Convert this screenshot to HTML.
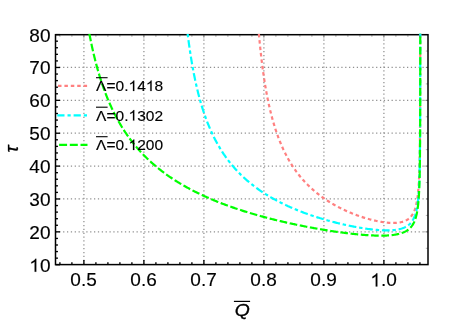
<!DOCTYPE html>
<html><head><meta charset="utf-8"><title>plot</title>
<style>html,body{margin:0;padding:0;background:#fff;}svg{display:block;will-change:transform;}</style></head>
<body>
<svg width="464" height="322" viewBox="0 0 464 322">
<rect width="464" height="322" fill="#fff"/>
<defs><clipPath id="c"><rect x="55.5" y="33.800000000000004" width="372.5" height="230.80000000000004"/></clipPath></defs>
<g stroke="#909090" stroke-width="1.25" stroke-dasharray="1.25 2.614" stroke-dashoffset="0.625" fill="none">
<line x1="83.90" y1="264.6" x2="83.90" y2="34.7" stroke-dashoffset="0.2"/>
<line x1="143.90" y1="264.6" x2="143.90" y2="34.7" stroke-dashoffset="0.2"/>
<line x1="203.90" y1="264.6" x2="203.90" y2="34.7" stroke-dashoffset="0.2"/>
<line x1="263.90" y1="264.6" x2="263.90" y2="34.7" stroke-dashoffset="0.2"/>
<line x1="323.90" y1="264.6" x2="323.90" y2="34.7" stroke-dashoffset="0.2"/>
<line x1="383.90" y1="264.6" x2="383.90" y2="34.7" stroke-dashoffset="0.2"/>
<line x1="56.0" y1="231.85" x2="428.0" y2="231.85"/>
<line x1="56.0" y1="198.97" x2="428.0" y2="198.97"/>
<line x1="56.0" y1="166.10" x2="428.0" y2="166.10"/>
<line x1="56.0" y1="133.22" x2="428.0" y2="133.22"/>
<line x1="56.0" y1="100.35" x2="428.0" y2="100.35"/>
<line x1="56.0" y1="67.47" x2="428.0" y2="67.47"/>
</g>
<rect x="55.5" y="34.7" width="372.5" height="229.90000000000003" fill="none" stroke="#000" stroke-width="1.5"/>
<g clip-path="url(#c)" fill="none" stroke-width="2.2">
<path d="M258.21,25.74 L258.32,27.05 L258.42,28.33 L258.53,29.59 L258.63,30.84 L258.74,32.07 L258.85,33.28 L258.95,34.48 L259.06,35.66 L259.16,36.82 L259.27,37.97 L259.38,39.10 L259.48,40.22 L259.59,41.33 L259.69,42.42 L259.80,43.49 L259.91,44.55 L260.01,45.60 L260.12,46.64 L260.22,47.66 L260.33,48.67 L260.43,49.67 L260.54,50.66 L260.64,51.63 L260.75,52.59 L260.85,53.55 L260.96,54.49 L261.06,55.42 L261.17,56.33 L261.27,57.24 L261.38,58.14 L261.48,59.03 L261.59,59.91 L261.69,60.77 L261.80,61.63 L261.90,62.48 L262.01,63.32 L262.11,64.15 L262.22,64.98 L262.32,65.79 L262.43,66.59 L262.53,67.39 L262.74,68.96 L262.95,70.50 L263.16,72.00 L263.37,73.48 L263.57,74.92 L263.78,76.34 L263.99,77.73 L264.20,79.10 L264.40,80.44 L264.61,81.75 L264.82,83.04 L265.03,84.31 L265.23,85.56 L265.44,86.78 L265.65,87.98 L265.85,89.16 L266.06,90.33 L266.26,91.47 L266.47,92.59 L266.67,93.69 L266.88,94.78 L267.08,95.85 L267.29,96.90 L267.49,97.94 L267.70,98.96 L267.90,99.96 L268.11,100.95 L268.31,101.92 L268.51,102.88 L268.72,103.82 L268.92,104.75 L269.12,105.67 L269.33,106.58 L269.53,107.47 L269.73,108.34 L269.94,109.21 L270.14,110.06 L270.34,110.91 L270.54,111.74 L270.74,112.56 L270.94,113.36 L271.15,114.16 L271.35,114.95 L271.55,115.73 L271.85,116.87 L272.15,118.00 L272.45,119.10 L272.75,120.18 L273.05,121.25 L273.35,122.29 L273.65,123.31 L273.95,124.32 L274.24,125.31 L274.54,126.28 L274.84,127.23 L275.14,128.17 L275.43,129.09 L275.73,130.00 L276.02,130.89 L276.32,131.77 L276.61,132.63 L276.91,133.48 L277.20,134.32 L277.50,135.14 L277.79,135.95 L278.08,136.75 L278.37,137.54 L278.67,138.31 L278.96,139.07 L279.25,139.82 L279.64,140.81 L280.02,141.77 L280.41,142.72 L280.79,143.65 L281.18,144.56 L281.56,145.45 L281.95,146.33 L282.33,147.20 L282.71,148.04 L283.09,148.88 L283.47,149.70 L283.85,150.50 L284.23,151.29 L284.61,152.07 L284.99,152.83 L285.36,153.59 L285.74,154.32 L286.11,155.05 L286.49,155.77 L286.96,156.65 L287.42,157.51 L287.89,158.36 L288.35,159.19 L288.82,160.00 L289.28,160.80 L289.74,161.58 L290.20,162.35 L290.66,163.11 L291.12,163.85 L291.57,164.58 L292.03,165.30 L292.48,166.00 L292.94,166.69 L293.39,167.37 L293.84,168.04 L294.38,168.83 L294.92,169.60 L295.46,170.36 L295.99,171.11 L296.52,171.84 L297.06,172.55 L297.59,173.25 L298.12,173.94 L298.65,174.62 L299.17,175.28 L299.70,175.94 L300.22,176.58 L300.74,177.21 L301.26,177.83 L301.87,178.54 L302.47,179.23 L303.07,179.92 L303.67,180.58 L304.27,181.24 L304.86,181.88 L305.46,182.52 L306.05,183.14 L306.63,183.74 L307.22,184.34 L307.81,184.93 L308.39,185.50 L308.97,186.07 L309.55,186.63 L310.21,187.25 L310.86,187.86 L311.52,188.46 L312.17,189.05 L312.82,189.63 L313.46,190.19 L314.11,190.75 L314.75,191.30 L315.38,191.83 L316.02,192.36 L316.65,192.87 L317.28,193.38 L317.91,193.88 L318.61,194.43 L319.31,194.97 L320.01,195.50 L320.70,196.02 L321.39,196.52 L322.08,197.02 L322.77,197.51 L323.45,197.99 L324.12,198.47 L324.80,198.93 L325.47,199.38 L326.14,199.83 L326.88,200.32 L327.61,200.79 L328.34,201.26 L329.07,201.72 L329.79,202.17 L330.51,202.61 L331.23,203.04 L331.94,203.47 L332.65,203.88 L333.35,204.29 L334.05,204.69 L334.75,205.09 L335.51,205.51 L336.27,205.93 L337.02,206.34 L337.77,206.73 L338.51,207.13 L339.25,207.51 L339.99,207.89 L340.72,208.25 L341.44,208.62 L342.17,208.97 L342.95,209.35 L343.73,209.72 L344.50,210.08 L345.26,210.44 L346.02,210.79 L346.78,211.13 L347.53,211.46 L348.28,211.79 L349.02,212.11 L349.82,212.44 L350.61,212.78 L351.39,213.10 L352.17,213.42 L352.94,213.73 L353.71,214.03 L354.47,214.32 L355.23,214.61 L355.98,214.89 L356.78,215.19 L357.57,215.48 L358.36,215.76 L359.14,216.04 L359.91,216.31 L360.68,216.57 L361.44,216.82 L362.25,217.09 L363.05,217.35 L363.85,217.60 L364.63,217.84 L365.41,218.08 L366.18,218.31 L367.00,218.55 L367.80,218.78 L368.60,219.01 L369.39,219.22 L370.18,219.44 L370.95,219.64 L371.76,219.85 L372.57,220.05 L373.37,220.24 L374.15,220.43 L374.98,220.62 L375.79,220.80 L376.59,220.97 L377.39,221.14 L378.17,221.29 L378.99,221.45 L379.80,221.60 L380.59,221.74 L381.42,221.88 L382.24,222.02 L383.04,222.14 L383.83,222.25 L384.65,222.36 L385.46,222.46 L386.26,222.56 L387.08,222.64 L387.88,222.72 L388.71,222.78 L389.53,222.84 L390.33,222.89 L391.15,222.92 L391.96,222.95 L392.78,222.96 L393.59,222.96 L394.41,222.95 L395.22,222.92 L396.03,222.88 L396.84,222.82 L397.65,222.74 L398.47,222.64 L399.27,222.53 L400.08,222.39 L400.86,222.23 L401.65,222.04 L402.45,221.83 L403.22,221.59 L403.99,221.32 L404.74,221.03 L405.48,220.69 L406.20,220.33 L406.90,219.94 L407.60,219.50 L408.27,219.03 L408.91,218.53 L409.52,218.00 L410.10,217.44 L410.66,216.85 L411.18,216.23 L411.68,215.60 L412.15,214.92 L412.59,214.24 L413.00,213.54 L413.38,212.83 L413.74,212.10 L414.07,211.38 L414.39,210.61 L414.69,209.84 L414.97,209.07 L415.23,208.30 L415.47,207.54 L415.70,206.74 L415.91,205.94 L416.11,205.16 L416.30,204.35 L416.48,203.54 L416.64,202.76 L416.80,201.94 L416.95,201.15 L417.09,200.32 L417.22,199.52 L417.35,198.70 L417.46,197.90 L417.58,197.08 L417.69,196.23 L417.79,195.42 L417.89,194.58 L417.98,193.78 L418.06,192.95 L418.15,192.11 L418.22,191.30 L418.30,190.48 L418.37,189.63 L418.44,188.83 L418.50,188.01 L418.56,187.17 L418.62,186.31 L418.68,185.51 L418.73,184.68 L418.79,183.84 L418.84,182.98 L418.88,182.18 L418.93,181.37 L418.97,180.53 L419.01,179.68 L419.05,178.81 L419.10,177.93 L419.13,177.11 L419.17,176.28 L419.20,175.43 L419.24,174.57 L419.27,173.68 L419.30,172.88 L419.33,172.07 L419.35,171.24 L419.38,170.40 L419.41,169.54 L419.43,168.66 L419.46,167.77 L419.48,166.86 L419.51,166.05 L419.53,165.22 L419.55,164.38 L419.57,163.53 L419.59,162.66 L419.61,161.78 L419.63,160.88 L419.65,159.96 L419.67,159.03 L419.68,158.22 L419.70,157.40 L419.71,156.56 L419.73,155.71 L419.74,154.84 L419.76,153.96 L419.77,153.07 L419.78,152.16 L419.80,151.24 L419.81,150.30 L419.82,149.35 L419.83,148.54 L419.84,147.72 L419.86,146.89 L419.87,146.05 L419.88,145.20 L419.89,144.33 L419.90,143.45 L419.91,142.56 L419.91,141.65 L419.92,140.73 L419.93,139.80 L419.94,138.85 L419.95,137.89 L419.96,136.91 L419.97,135.92 L419.98,135.12 L419.98,134.30 L419.99,133.48 L419.99,132.64 L420.00,131.79 L420.01,130.93 L420.01,130.06 L420.02,129.18 L420.03,128.29 L420.03,127.39 L420.04,126.47 L420.04,125.54 L420.05,124.60 L420.05,123.64 L420.06,122.68 L420.07,121.69 L420.07,120.70 L420.08,119.69 L420.08,118.67 L420.09,117.63 L420.09,116.57 L420.10,115.77 L420.10,114.96 L420.10,114.15 L420.11,113.32 L420.11,112.48 L420.11,111.64 L420.12,110.78 L420.12,109.91 L420.12,109.04 L420.13,108.15 L420.13,107.26 L420.13,106.35 L420.14,105.44 L420.14,104.51 L420.14,103.57 L420.15,102.62 L420.15,101.66 L420.15,100.69 L420.15,99.70 L420.16,98.70 L420.16,97.70 L420.16,96.67 L420.17,95.64 L420.17,94.59 L420.17,93.53 L420.17,92.46 L420.18,91.37 L420.18,90.26 L420.18,89.15 L420.18,88.01 L420.19,86.87 L420.19,85.71 L420.19,84.53 L420.19,83.33 L420.20,82.53 L420.20,81.72 L420.20,80.90 L420.20,80.07 L420.20,79.23 L420.20,78.39 L420.20,77.54 L420.21,76.68 L420.21,75.82 L420.21,74.94 L420.21,74.06 L420.21,73.16 L420.21,72.26 L420.21,71.35 L420.22,70.44 L420.22,69.51 L420.22,68.57 L420.22,67.63 L420.22,66.67 L420.22,65.71 L420.22,64.73 L420.22,63.75 L420.23,62.75 L420.23,61.75 L420.23,60.73 L420.23,59.71 L420.23,58.67 L420.23,57.62 L420.23,56.57 L420.23,55.50 L420.24,54.41 L420.24,53.32 L420.24,52.22 L420.24,51.10 L420.24,49.97 L420.24,48.83 L420.24,47.68 L420.24,46.51 L420.24,45.33 L420.24,44.14 L420.25,42.93 L420.25,41.71 L420.25,40.47 L420.25,39.22 L420.25,37.96 L420.25,36.68 L420.25,35.39 L420.25,34.08 L420.25,32.75 L420.25,31.41 L420.25,30.06 L420.26,28.68 L420.26,27.29 L420.26,25.88 L420.26,25.17" stroke="#ff8080" stroke-dasharray="3.55 2.89" stroke-dashoffset="4.84"/>
<path d="M186.72,25.77 L186.86,26.97 L187.00,28.16 L187.13,29.33 L187.27,30.48 L187.40,31.62 L187.54,32.75 L187.67,33.86 L187.81,34.96 L187.94,36.05 L188.08,37.12 L188.21,38.18 L188.35,39.23 L188.48,40.26 L188.62,41.28 L188.75,42.29 L188.89,43.29 L189.02,44.28 L189.16,45.25 L189.29,46.22 L189.43,47.17 L189.56,48.11 L189.70,49.05 L189.83,49.97 L189.97,50.88 L190.10,51.78 L190.24,52.67 L190.37,53.56 L190.50,54.43 L190.64,55.29 L190.77,56.15 L190.91,56.99 L191.04,57.83 L191.17,58.66 L191.31,59.48 L191.44,60.29 L191.58,61.10 L191.71,61.89 L191.98,63.46 L192.24,64.99 L192.51,66.50 L192.78,67.98 L193.05,69.43 L193.31,70.85 L193.58,72.25 L193.84,73.62 L194.11,74.97 L194.38,76.29 L194.64,77.59 L194.91,78.87 L195.17,80.13 L195.44,81.36 L195.70,82.58 L195.96,83.77 L196.23,84.95 L196.49,86.10 L196.76,87.24 L197.02,88.36 L197.28,89.46 L197.55,90.54 L197.81,91.61 L198.07,92.66 L198.33,93.70 L198.60,94.72 L198.86,95.72 L199.12,96.71 L199.38,97.69 L199.64,98.65 L199.90,99.60 L200.17,100.53 L200.43,101.46 L200.69,102.37 L200.95,103.26 L201.21,104.15 L201.47,105.02 L201.73,105.88 L201.99,106.73 L202.25,107.57 L202.51,108.40 L202.76,109.21 L203.02,110.02 L203.28,110.82 L203.54,111.60 L203.80,112.38 L204.06,113.15 L204.31,113.91 L204.70,115.02 L205.09,116.12 L205.47,117.20 L205.86,118.26 L206.24,119.31 L206.62,120.33 L207.01,121.34 L207.39,122.33 L207.77,123.30 L208.16,124.26 L208.54,125.20 L208.92,126.13 L209.30,127.04 L209.68,127.94 L210.06,128.82 L210.44,129.69 L210.82,130.55 L211.20,131.39 L211.57,132.23 L211.95,133.05 L212.33,133.85 L212.70,134.65 L213.08,135.43 L213.46,136.20 L213.83,136.97 L214.21,137.72 L214.58,138.46 L214.95,139.19 L215.33,139.91 L215.70,140.62 L216.20,141.55 L216.69,142.47 L217.19,143.37 L217.68,144.26 L218.18,145.13 L218.67,145.98 L219.16,146.82 L219.65,147.65 L220.14,148.46 L220.63,149.26 L221.12,150.05 L221.61,150.83 L222.09,151.59 L222.58,152.34 L223.07,153.08 L223.55,153.81 L224.03,154.53 L224.52,155.23 L225.00,155.93 L225.48,156.62 L225.96,157.29 L226.44,157.96 L226.92,158.62 L227.40,159.26 L228.00,160.06 L228.59,160.84 L229.19,161.61 L229.78,162.37 L230.37,163.11 L230.96,163.85 L231.55,164.57 L232.14,165.27 L232.72,165.97 L233.31,166.66 L233.89,167.33 L234.48,168.00 L235.06,168.65 L235.64,169.29 L236.22,169.93 L236.80,170.55 L237.38,171.17 L237.95,171.77 L238.53,172.37 L239.10,172.96 L239.67,173.54 L240.24,174.11 L240.81,174.68 L241.50,175.34 L242.18,176.00 L242.86,176.64 L243.53,177.28 L244.21,177.90 L244.88,178.52 L245.55,179.12 L246.22,179.72 L246.89,180.30 L247.56,180.88 L248.22,181.45 L248.89,182.01 L249.55,182.56 L250.21,183.10 L250.87,183.64 L251.52,184.16 L252.18,184.68 L252.83,185.19 L253.48,185.70 L254.13,186.20 L254.78,186.69 L255.43,187.17 L256.07,187.65 L256.82,188.20 L257.57,188.74 L258.32,189.27 L259.06,189.79 L259.80,190.30 L260.54,190.81 L261.27,191.31 L262.01,191.80 L262.74,192.29 L263.47,192.77 L264.20,193.24 L264.92,193.70 L265.65,194.16 L266.37,194.61 L267.08,195.05 L267.80,195.49 L268.51,195.92 L269.23,196.35 L269.94,196.77 L270.64,197.18 L271.35,197.59 L272.05,197.99 L272.75,198.39 L273.45,198.78 L274.24,199.22 L275.04,199.66 L275.83,200.09 L276.61,200.51 L277.40,200.92 L278.18,201.33 L278.96,201.74 L279.73,202.14 L280.50,202.53 L281.27,202.92 L282.04,203.30 L282.80,203.67 L283.57,204.05 L284.32,204.41 L285.08,204.77 L285.83,205.13 L286.58,205.48 L287.33,205.82 L288.07,206.17 L288.82,206.50 L289.55,206.84 L290.29,207.16 L291.02,207.49 L291.85,207.85 L292.66,208.20 L293.48,208.55 L294.29,208.89 L295.10,209.23 L295.90,209.57 L296.70,209.89 L297.50,210.22 L298.29,210.54 L299.08,210.85 L299.87,211.16 L300.66,211.47 L301.44,211.77 L302.21,212.07 L302.99,212.37 L303.76,212.66 L304.52,212.94 L305.29,213.22 L306.05,213.50 L306.80,213.78 L307.56,214.05 L308.39,214.34 L309.22,214.64 L310.04,214.92 L310.86,215.21 L311.68,215.49 L312.49,215.76 L313.30,216.03 L314.11,216.30 L314.91,216.56 L315.70,216.82 L316.49,217.08 L317.28,217.33 L318.07,217.58 L318.85,217.82 L319.62,218.07 L320.40,218.30 L321.17,218.54 L322.01,218.79 L322.84,219.04 L323.67,219.29 L324.50,219.53 L325.32,219.77 L326.14,220.00 L326.95,220.23 L327.76,220.46 L328.56,220.69 L329.36,220.91 L330.15,221.12 L330.94,221.34 L331.73,221.55 L332.51,221.75 L333.28,221.96 L334.12,222.17 L334.96,222.39 L335.79,222.60 L336.61,222.81 L337.43,223.01 L338.24,223.21 L339.05,223.41 L339.85,223.60 L340.65,223.79 L341.44,223.98 L342.23,224.16 L343.01,224.34 L343.85,224.53 L344.69,224.72 L345.52,224.90 L346.34,225.08 L347.16,225.26 L347.97,225.43 L348.77,225.60 L349.57,225.76 L350.36,225.93 L351.15,226.08 L351.99,226.25 L352.82,226.41 L353.65,226.57 L354.47,226.73 L355.28,226.88 L356.09,227.03 L356.89,227.18 L357.68,227.32 L358.53,227.47 L359.36,227.61 L360.19,227.75 L361.01,227.88 L361.82,228.02 L362.63,228.14 L363.42,228.27 L364.27,228.40 L365.10,228.52 L365.93,228.64 L366.74,228.75 L367.55,228.87 L368.35,228.97 L369.20,229.08 L370.03,229.19 L370.85,229.29 L371.67,229.38 L372.47,229.47 L373.27,229.56 L374.11,229.65 L374.93,229.73 L375.74,229.80 L376.55,229.88 L377.39,229.95 L378.22,230.01 L379.03,230.07 L379.84,230.12 L380.68,230.18 L381.50,230.22 L382.32,230.26 L383.12,230.29 L383.95,230.32 L384.77,230.34 L385.58,230.36 L386.41,230.37 L387.22,230.37 L388.03,230.36 L388.86,230.35 L389.67,230.32 L390.50,230.29 L391.32,230.25 L392.12,230.20 L392.94,230.14 L393.75,230.07 L394.57,229.98 L395.37,229.89 L396.18,229.77 L396.98,229.65 L397.79,229.51 L398.58,229.35 L399.38,229.18 L400.15,228.99 L400.94,228.78 L401.73,228.54 L402.49,228.29 L403.26,228.00 L404.01,227.70 L404.76,227.36 L405.48,227.01 L406.20,226.61 L406.90,226.19 L407.58,225.75 L408.23,225.27 L408.86,224.77 L409.46,224.24 L410.05,223.67 L410.61,223.07 L411.14,222.46 L411.65,221.81 L412.12,221.15 L412.56,220.48 L412.99,219.77 L413.38,219.05 L413.75,218.32 L414.10,217.59 L414.42,216.84 L414.72,216.10 L415.00,215.33 L415.27,214.55 L415.52,213.77 L415.75,213.00 L415.97,212.20 L416.18,211.41 L416.37,210.62 L416.55,209.81 L416.72,209.00 L416.88,208.22 L417.03,207.41 L417.17,206.61 L417.30,205.79 L417.43,204.99 L417.55,204.17 L417.66,203.38 L417.77,202.56 L417.87,201.72 L417.97,200.91 L418.06,200.07 L418.15,199.27 L418.23,198.45 L418.31,197.61 L418.38,196.81 L418.45,195.99 L418.52,195.15 L418.59,194.28 L418.65,193.46 L418.71,192.63 L418.77,191.77 L418.82,190.97 L418.87,190.15 L418.92,189.31 L418.97,188.45 L419.01,187.57 L419.05,186.75 L419.10,185.92 L419.14,185.06 L419.17,184.19 L419.21,183.39 L419.24,182.57 L419.28,181.74 L419.31,180.89 L419.34,180.03 L419.37,179.14 L419.40,178.34 L419.42,177.52 L419.45,176.69 L419.48,175.84 L419.50,174.98 L419.52,174.10 L419.55,173.20 L419.57,172.40 L419.59,171.58 L419.61,170.76 L419.63,169.91 L419.65,169.05 L419.67,168.18 L419.68,167.29 L419.70,166.39 L419.72,165.46 L419.73,164.66 L419.75,163.84 L419.76,163.01 L419.78,162.17 L419.79,161.31 L419.80,160.44 L419.82,159.56 L419.83,158.65 L419.84,157.74 L419.86,156.81 L419.87,155.86 L419.88,155.06 L419.89,154.24 L419.90,153.42 L419.91,152.58 L419.92,151.73 L419.93,150.86 L419.93,149.99 L419.94,149.10 L419.95,148.19 L419.96,147.28 L419.97,146.34 L419.98,145.40 L419.99,144.43 L419.99,143.46 L420.00,142.46 L420.01,141.66 L420.02,140.84 L420.02,140.01 L420.03,139.18 L420.03,138.33 L420.04,137.47 L420.04,136.59 L420.05,135.71 L420.06,134.81 L420.06,133.90 L420.07,132.98 L420.07,132.05 L420.08,131.10 L420.08,130.14 L420.09,129.16 L420.09,128.17 L420.10,127.17 L420.10,126.15 L420.11,125.11 L420.11,124.07 L420.12,123.00 L420.12,122.19 L420.12,121.37 L420.13,120.54 L420.13,119.71 L420.13,118.86 L420.14,118.00 L420.14,117.13 L420.14,116.25 L420.15,115.37 L420.15,114.47 L420.15,113.56 L420.15,112.64 L420.16,111.70 L420.16,110.76 L420.16,109.80 L420.17,108.84 L420.17,107.85 L420.17,106.86 L420.17,105.86 L420.18,104.84 L420.18,103.81 L420.18,102.76 L420.18,101.70 L420.19,100.63 L420.19,99.54 L420.19,98.44 L420.19,97.33 L420.20,96.19 L420.20,95.05 L420.20,93.88 L420.20,92.70 L420.21,91.51 L420.21,90.70 L420.21,89.89 L420.21,89.06 L420.21,88.23 L420.21,87.39 L420.21,86.55 L420.21,85.69 L420.22,84.83 L420.22,83.96 L420.22,83.08 L420.22,82.19 L420.22,81.29 L420.22,80.39 L420.22,79.47 L420.23,78.54 L420.23,77.61 L420.23,76.67 L420.23,75.71 L420.23,74.75 L420.23,73.77 L420.23,72.79 L420.23,71.79 L420.23,70.79 L420.24,69.77 L420.24,68.74 L420.24,67.70 L420.24,66.65 L420.24,65.59 L420.24,64.52 L420.24,63.44 L420.24,62.34 L420.24,61.23 L420.25,60.11 L420.25,58.97 L420.25,57.82 L420.25,56.66 L420.25,55.49 L420.25,54.30 L420.25,53.10 L420.25,51.88 L420.25,50.65 L420.25,49.40 L420.25,48.14 L420.26,46.86 L420.26,45.57 L420.26,44.26 L420.26,42.94 L420.26,41.60 L420.26,40.24 L420.26,38.86 L420.26,37.47 L420.26,36.06 L420.26,34.63 L420.26,33.18 L420.26,31.72 L420.26,30.23 L420.27,28.72 L420.27,27.20 L420.27,25.65 L420.27,24.87" stroke="#00ffff" stroke-dasharray="7.7 2.83 3.43 2.8" stroke-dashoffset="2.40"/>
<path d="M87.79,24.92 L87.97,25.92 L88.14,26.90 L88.31,27.87 L88.48,28.83 L88.65,29.78 L88.82,30.72 L89.00,31.65 L89.17,32.57 L89.34,33.49 L89.51,34.39 L89.68,35.28 L89.85,36.17 L90.02,37.05 L90.19,37.92 L90.36,38.78 L90.53,39.63 L90.71,40.48 L90.88,41.31 L91.05,42.14 L91.22,42.96 L91.39,43.78 L91.56,44.58 L91.73,45.38 L91.90,46.17 L92.07,46.96 L92.41,48.50 L92.75,50.02 L93.09,51.52 L93.43,52.98 L93.77,54.43 L94.11,55.85 L94.45,57.24 L94.79,58.61 L95.12,59.96 L95.46,61.29 L95.80,62.60 L96.14,63.88 L96.48,65.15 L96.81,66.40 L97.15,67.62 L97.49,68.83 L97.82,70.02 L98.16,71.20 L98.50,72.35 L98.83,73.49 L99.17,74.61 L99.50,75.72 L99.84,76.81 L100.17,77.89 L100.51,78.95 L100.84,80.00 L101.18,81.03 L101.51,82.05 L101.85,83.05 L102.18,84.04 L102.51,85.02 L102.85,85.99 L103.18,86.94 L103.51,87.88 L103.84,88.81 L104.18,89.73 L104.51,90.63 L104.84,91.53 L105.17,92.41 L105.50,93.28 L105.83,94.14 L106.17,95.00 L106.50,95.84 L106.83,96.67 L107.16,97.49 L107.49,98.31 L107.82,99.11 L108.15,99.90 L108.47,100.69 L108.80,101.46 L109.13,102.23 L109.46,102.99 L109.79,103.74 L110.12,104.48 L110.45,105.22 L110.94,106.31 L111.43,107.38 L111.92,108.43 L112.41,109.46 L112.90,110.48 L113.39,111.49 L113.87,112.48 L114.36,113.45 L114.85,114.41 L115.34,115.36 L115.82,116.29 L116.31,117.21 L116.79,118.12 L117.28,119.01 L117.76,119.89 L118.24,120.76 L118.73,121.62 L119.21,122.46 L119.69,123.29 L120.17,124.12 L120.65,124.93 L121.13,125.73 L121.61,126.52 L122.09,127.30 L122.57,128.07 L123.05,128.83 L123.53,129.58 L124.01,130.32 L124.48,131.05 L124.96,131.77 L125.44,132.49 L125.91,133.19 L126.39,133.89 L126.86,134.58 L127.33,135.26 L127.81,135.93 L128.28,136.60 L128.75,137.25 L129.22,137.90 L129.85,138.76 L130.48,139.60 L131.11,140.43 L131.73,141.24 L132.36,142.05 L132.98,142.84 L133.60,143.63 L134.22,144.40 L134.85,145.16 L135.47,145.91 L136.08,146.65 L136.70,147.37 L137.32,148.09 L137.94,148.80 L138.55,149.50 L139.17,150.19 L139.78,150.88 L140.39,151.55 L141.01,152.21 L141.62,152.87 L142.23,153.52 L142.84,154.16 L143.44,154.79 L144.05,155.41 L144.66,156.03 L145.27,156.64 L145.87,157.24 L146.47,157.83 L147.08,158.42 L147.68,159.00 L148.28,159.57 L148.88,160.14 L149.48,160.70 L150.08,161.25 L150.68,161.80 L151.27,162.34 L151.87,162.88 L152.61,163.54 L153.36,164.19 L154.10,164.83 L154.84,165.46 L155.58,166.09 L156.31,166.71 L157.05,167.31 L157.78,167.91 L158.52,168.51 L159.25,169.09 L159.98,169.67 L160.71,170.24 L161.43,170.80 L162.16,171.36 L162.88,171.91 L163.61,172.45 L164.33,172.99 L165.05,173.52 L165.77,174.04 L166.49,174.56 L167.20,175.07 L167.92,175.57 L168.63,176.07 L169.35,176.57 L170.06,177.05 L170.77,177.53 L171.47,178.01 L172.18,178.48 L172.89,178.95 L173.59,179.41 L174.30,179.86 L175.00,180.31 L175.70,180.76 L176.40,181.20 L177.09,181.64 L177.79,182.07 L178.49,182.49 L179.18,182.92 L179.87,183.33 L180.56,183.75 L181.25,184.16 L182.08,184.64 L182.90,185.12 L183.73,185.59 L184.55,186.06 L185.36,186.52 L186.18,186.98 L187.00,187.43 L187.81,187.88 L188.62,188.32 L189.43,188.75 L190.24,189.19 L191.04,189.61 L191.84,190.03 L192.65,190.45 L193.44,190.86 L194.24,191.27 L195.04,191.67 L195.83,192.07 L196.62,192.46 L197.41,192.85 L198.20,193.23 L198.99,193.61 L199.77,193.99 L200.56,194.36 L201.34,194.73 L202.12,195.10 L202.89,195.46 L203.67,195.81 L204.44,196.17 L205.21,196.52 L205.98,196.86 L206.75,197.21 L207.52,197.55 L208.28,197.88 L209.05,198.22 L209.81,198.54 L210.56,198.87 L211.32,199.19 L212.08,199.51 L212.83,199.83 L213.58,200.14 L214.33,200.45 L215.08,200.76 L215.83,201.06 L216.57,201.37 L217.31,201.66 L218.18,202.01 L219.04,202.35 L219.90,202.69 L220.75,203.02 L221.61,203.35 L222.46,203.68 L223.31,204.00 L224.15,204.32 L225.00,204.64 L225.84,204.95 L226.68,205.26 L227.52,205.57 L228.35,205.87 L229.19,206.17 L230.01,206.47 L230.84,206.76 L231.67,207.05 L232.49,207.34 L233.31,207.62 L234.13,207.91 L234.94,208.19 L235.76,208.46 L236.57,208.74 L237.38,209.01 L238.18,209.28 L238.99,209.54 L239.79,209.81 L240.59,210.07 L241.38,210.33 L242.18,210.58 L242.97,210.84 L243.76,211.09 L244.54,211.33 L245.33,211.58 L246.11,211.82 L246.89,212.07 L247.67,212.31 L248.45,212.54 L249.22,212.78 L249.99,213.01 L250.76,213.24 L251.63,213.50 L252.51,213.76 L253.37,214.02 L254.24,214.27 L255.10,214.52 L255.96,214.77 L256.82,215.01 L257.68,215.25 L258.53,215.49 L259.38,215.73 L260.22,215.97 L261.06,216.20 L261.90,216.43 L262.74,216.66 L263.57,216.88 L264.40,217.11 L265.23,217.33 L266.06,217.55 L266.88,217.76 L267.70,217.98 L268.51,218.19 L269.33,218.40 L270.14,218.61 L270.94,218.82 L271.75,219.02 L272.55,219.22 L273.35,219.42 L274.15,219.62 L274.94,219.82 L275.73,220.01 L276.52,220.20 L277.30,220.40 L278.08,220.58 L278.86,220.77 L279.73,220.98 L280.60,221.19 L281.47,221.39 L282.33,221.59 L283.19,221.79 L284.04,221.99 L284.89,222.18 L285.74,222.38 L286.58,222.57 L287.42,222.76 L288.26,222.94 L289.09,223.13 L289.92,223.31 L290.75,223.49 L291.57,223.67 L292.39,223.85 L293.21,224.03 L294.02,224.20 L294.83,224.37 L295.63,224.54 L296.44,224.71 L297.23,224.88 L298.03,225.04 L298.82,225.20 L299.61,225.36 L300.39,225.52 L301.26,225.70 L302.13,225.87 L302.99,226.04 L303.84,226.21 L304.69,226.38 L305.54,226.54 L306.38,226.71 L307.22,226.87 L308.06,227.03 L308.89,227.18 L309.71,227.34 L310.54,227.49 L311.35,227.64 L312.17,227.79 L312.98,227.94 L313.78,228.09 L314.59,228.23 L315.38,228.38 L316.18,228.52 L316.97,228.66 L317.83,228.81 L318.69,228.96 L319.55,229.10 L320.40,229.25 L321.24,229.39 L322.08,229.53 L322.92,229.67 L323.75,229.81 L324.57,229.95 L325.40,230.08 L326.21,230.21 L327.02,230.34 L327.83,230.47 L328.63,230.60 L329.43,230.72 L330.23,230.84 L331.09,230.97 L331.94,231.10 L332.79,231.23 L333.63,231.36 L334.47,231.48 L335.30,231.60 L336.13,231.72 L336.95,231.84 L337.77,231.95 L338.58,232.07 L339.39,232.18 L340.19,232.29 L340.98,232.40 L341.84,232.51 L342.69,232.62 L343.53,232.73 L344.37,232.84 L345.20,232.95 L346.02,233.05 L346.84,233.15 L347.66,233.25 L348.46,233.35 L349.26,233.44 L350.06,233.53 L350.91,233.63 L351.75,233.73 L352.59,233.82 L353.42,233.91 L354.24,234.00 L355.05,234.08 L355.86,234.17 L356.66,234.25 L357.51,234.33 L358.36,234.41 L359.20,234.49 L360.02,234.57 L360.85,234.64 L361.66,234.71 L362.47,234.78 L363.27,234.84 L364.11,234.91 L364.94,234.98 L365.77,235.04 L366.59,235.10 L367.40,235.15 L368.21,235.20 L369.05,235.26 L369.88,235.30 L370.71,235.35 L371.53,235.39 L372.33,235.43 L373.18,235.47 L374.01,235.50 L374.84,235.53 L375.65,235.56 L376.46,235.58 L377.30,235.60 L378.13,235.62 L378.95,235.63 L379.76,235.64 L380.59,235.64 L381.42,235.64 L382.24,235.64 L383.04,235.63 L383.87,235.61 L384.69,235.59 L385.50,235.56 L386.33,235.53 L387.15,235.49 L387.96,235.44 L388.78,235.39 L389.60,235.33 L390.40,235.26 L391.22,235.18 L392.02,235.10 L392.84,235.00 L393.65,234.90 L394.47,234.78 L395.28,234.65 L396.09,234.51 L396.89,234.35 L397.70,234.18 L398.50,234.00 L399.30,233.80 L400.08,233.58 L400.86,233.35 L401.63,233.10 L402.40,232.82 L403.15,232.53 L403.90,232.21 L404.62,231.88 L405.35,231.51 L406.06,231.12 L406.76,230.69 L407.44,230.24 L408.10,229.77 L408.73,229.27 L409.34,228.74 L409.93,228.18 L410.50,227.60 L411.03,226.99 L411.54,226.36 L412.02,225.72 L412.48,225.05 L412.91,224.36 L413.31,223.66 L413.69,222.94 L414.05,222.20 L414.38,221.46 L414.69,220.71 L414.98,219.97 L415.26,219.19 L415.52,218.41 L415.76,217.63 L415.98,216.86 L416.19,216.05 L416.39,215.26 L416.58,214.47 L416.75,213.66 L416.92,212.86 L417.07,212.07 L417.21,211.26 L417.35,210.47 L417.48,209.65 L417.60,208.86 L417.71,208.04 L417.82,207.24 L417.92,206.42 L418.02,205.58 L418.12,204.77 L418.21,203.94 L418.29,203.14 L418.36,202.32 L418.44,201.48 L418.51,200.68 L418.58,199.86 L418.64,199.02 L418.71,198.16 L418.77,197.34 L418.82,196.50 L418.88,195.65 L418.93,194.84 L418.97,194.02 L419.02,193.18 L419.07,192.32 L419.11,191.52 L419.15,190.70 L419.19,189.87 L419.22,189.01 L419.26,188.14 L419.29,187.34 L419.33,186.52 L419.36,185.69 L419.39,184.84 L419.42,183.97 L419.45,183.08 L419.47,182.27 L419.50,181.45 L419.52,180.62 L419.55,179.77 L419.57,178.90 L419.59,178.01 L419.61,177.11 L419.63,176.30 L419.65,175.48 L419.67,174.65 L419.69,173.80 L419.71,172.93 L419.72,172.05 L419.74,171.15 L419.76,170.24 L419.77,169.31 L419.79,168.50 L419.80,167.67 L419.81,166.83 L419.83,165.98 L419.84,165.11 L419.85,164.23 L419.87,163.33 L419.88,162.41 L419.89,161.48 L419.90,160.54 L419.91,159.74 L419.92,158.92 L419.93,158.10 L419.94,157.26 L419.95,156.41 L419.96,155.55 L419.96,154.67 L419.97,153.78 L419.98,152.87 L419.99,151.96 L420.00,151.02 L420.01,150.07 L420.01,149.11 L420.02,148.13 L420.03,147.13 L420.03,146.32 L420.04,145.50 L420.05,144.67 L420.05,143.83 L420.06,142.97 L420.06,142.11 L420.07,141.23 L420.07,140.34 L420.08,139.43 L420.08,138.52 L420.09,137.59 L420.09,136.64 L420.10,135.69 L420.10,134.72 L420.11,133.73 L420.11,132.73 L420.12,131.72 L420.12,130.69 L420.13,129.64 L420.13,128.58 L420.13,127.77 L420.14,126.95 L420.14,126.13 L420.14,125.29 L420.15,124.44 L420.15,123.58 L420.15,122.72 L420.16,121.84 L420.16,120.95 L420.16,120.05 L420.16,119.14 L420.17,118.22 L420.17,117.28 L420.17,116.34 L420.17,115.38 L420.18,114.41 L420.18,113.42 L420.18,112.43 L420.19,111.42 L420.19,110.40 L420.19,109.36 L420.19,108.31 L420.19,107.24 L420.20,106.17 L420.20,105.07 L420.20,103.96 L420.20,102.84 L420.21,101.70 L420.21,100.54 L420.21,99.37 L420.21,98.18 L420.21,97.37 L420.21,96.56 L420.22,95.74 L420.22,94.92 L420.22,94.08 L420.22,93.24 L420.22,92.38 L420.22,91.52 L420.22,90.65 L420.23,89.78 L420.23,88.89 L420.23,87.99 L420.23,87.09 L420.23,86.17 L420.23,85.25 L420.23,84.31 L420.23,83.37 L420.23,82.41 L420.24,81.45 L420.24,80.48 L420.24,79.49 L420.24,78.49 L420.24,77.49 L420.24,76.47 L420.24,75.44 L420.24,74.40 L420.24,73.34 L420.25,72.28 L420.25,71.20 L420.25,70.11 L420.25,69.01 L420.25,67.90 L420.25,66.77 L420.25,65.63 L420.25,64.47 L420.25,63.30 L420.25,62.12 L420.25,60.92 L420.26,59.71 L420.26,58.49 L420.26,57.24 L420.26,55.99 L420.26,54.72 L420.26,53.43 L420.26,52.12 L420.26,50.80 L420.26,49.46 L420.26,48.10 L420.26,46.73 L420.26,45.34 L420.26,43.93 L420.27,42.50 L420.27,41.05 L420.27,39.58 L420.27,38.09 L420.27,36.58 L420.27,35.05 L420.27,33.50 L420.27,31.93 L420.27,30.33 L420.27,29.53 L420.27,28.72 L420.27,27.90 L420.27,27.07 L420.27,26.24 L420.27,25.41 L420.27,25.41" stroke="#00ff00" stroke-dasharray="7.66 2.63" stroke-dashoffset="1.40"/>
<line x1="57" y1="85.8" x2="87.5" y2="85.8" stroke="#ff8080" stroke-dasharray="3.5 2.9" stroke-dashoffset="5.4"/>
<line x1="57" y1="115.3" x2="87.5" y2="115.3" stroke="#00ffff" stroke-dasharray="7.2 3 3.2 2.9" stroke-dashoffset="16"/>
<line x1="57" y1="144.8" x2="87.5" y2="144.8" stroke="#00ff00" stroke-dasharray="8 2.7" stroke-dashoffset="8.6"/>
</g>
<g stroke="#000" stroke-width="0.45" opacity="0.7">
<line x1="59.90" y1="34.7" x2="59.90" y2="36.900000000000006"/>
<line x1="71.90" y1="34.7" x2="71.90" y2="36.900000000000006"/>
<line x1="83.90" y1="34.7" x2="83.90" y2="38.7"/>
<line x1="95.90" y1="34.7" x2="95.90" y2="36.900000000000006"/>
<line x1="107.90" y1="34.7" x2="107.90" y2="36.900000000000006"/>
<line x1="119.90" y1="34.7" x2="119.90" y2="36.900000000000006"/>
<line x1="131.90" y1="34.7" x2="131.90" y2="36.900000000000006"/>
<line x1="143.90" y1="34.7" x2="143.90" y2="38.7"/>
<line x1="155.90" y1="34.7" x2="155.90" y2="36.900000000000006"/>
<line x1="167.90" y1="34.7" x2="167.90" y2="36.900000000000006"/>
<line x1="179.90" y1="34.7" x2="179.90" y2="36.900000000000006"/>
<line x1="191.90" y1="34.7" x2="191.90" y2="36.900000000000006"/>
<line x1="203.90" y1="34.7" x2="203.90" y2="38.7"/>
<line x1="215.90" y1="34.7" x2="215.90" y2="36.900000000000006"/>
<line x1="227.90" y1="34.7" x2="227.90" y2="36.900000000000006"/>
<line x1="239.90" y1="34.7" x2="239.90" y2="36.900000000000006"/>
<line x1="251.90" y1="34.7" x2="251.90" y2="36.900000000000006"/>
<line x1="263.90" y1="34.7" x2="263.90" y2="38.7"/>
<line x1="275.90" y1="34.7" x2="275.90" y2="36.900000000000006"/>
<line x1="287.90" y1="34.7" x2="287.90" y2="36.900000000000006"/>
<line x1="299.90" y1="34.7" x2="299.90" y2="36.900000000000006"/>
<line x1="311.90" y1="34.7" x2="311.90" y2="36.900000000000006"/>
<line x1="323.90" y1="34.7" x2="323.90" y2="38.7"/>
<line x1="335.90" y1="34.7" x2="335.90" y2="36.900000000000006"/>
<line x1="347.90" y1="34.7" x2="347.90" y2="36.900000000000006"/>
<line x1="359.90" y1="34.7" x2="359.90" y2="36.900000000000006"/>
<line x1="371.90" y1="34.7" x2="371.90" y2="36.900000000000006"/>
<line x1="383.90" y1="34.7" x2="383.90" y2="38.7"/>
<line x1="395.90" y1="34.7" x2="395.90" y2="36.900000000000006"/>
<line x1="407.90" y1="34.7" x2="407.90" y2="36.900000000000006"/>
<line x1="419.90" y1="34.7" x2="419.90" y2="36.900000000000006"/>
<line x1="428.0" y1="264.73" x2="425.8" y2="264.73"/>
<line x1="428.0" y1="248.29" x2="425.8" y2="248.29"/>
<line x1="428.0" y1="231.85" x2="424.0" y2="231.85"/>
<line x1="428.0" y1="215.41" x2="425.8" y2="215.41"/>
<line x1="428.0" y1="198.97" x2="425.8" y2="198.97"/>
<line x1="428.0" y1="182.54" x2="425.8" y2="182.54"/>
<line x1="428.0" y1="166.10" x2="424.0" y2="166.10"/>
<line x1="428.0" y1="149.66" x2="425.8" y2="149.66"/>
<line x1="428.0" y1="133.22" x2="425.8" y2="133.22"/>
<line x1="428.0" y1="116.79" x2="425.8" y2="116.79"/>
<line x1="428.0" y1="100.35" x2="424.0" y2="100.35"/>
<line x1="428.0" y1="83.91" x2="425.8" y2="83.91"/>
<line x1="428.0" y1="67.47" x2="425.8" y2="67.47"/>
<line x1="428.0" y1="51.04" x2="425.8" y2="51.04"/>
<line x1="428.0" y1="34.60" x2="424.0" y2="34.60"/>
</g>
<g stroke="#000" stroke-width="1.35">
<line x1="59.90" y1="264.6" x2="59.90" y2="262.15000000000003"/>
<line x1="71.90" y1="264.6" x2="71.90" y2="262.15000000000003"/>
<line x1="83.90" y1="264.6" x2="83.90" y2="260.05"/>
<line x1="95.90" y1="264.6" x2="95.90" y2="262.15000000000003"/>
<line x1="107.90" y1="264.6" x2="107.90" y2="262.15000000000003"/>
<line x1="119.90" y1="264.6" x2="119.90" y2="262.15000000000003"/>
<line x1="131.90" y1="264.6" x2="131.90" y2="262.15000000000003"/>
<line x1="143.90" y1="264.6" x2="143.90" y2="260.05"/>
<line x1="155.90" y1="264.6" x2="155.90" y2="262.15000000000003"/>
<line x1="167.90" y1="264.6" x2="167.90" y2="262.15000000000003"/>
<line x1="179.90" y1="264.6" x2="179.90" y2="262.15000000000003"/>
<line x1="191.90" y1="264.6" x2="191.90" y2="262.15000000000003"/>
<line x1="203.90" y1="264.6" x2="203.90" y2="260.05"/>
<line x1="215.90" y1="264.6" x2="215.90" y2="262.15000000000003"/>
<line x1="227.90" y1="264.6" x2="227.90" y2="262.15000000000003"/>
<line x1="239.90" y1="264.6" x2="239.90" y2="262.15000000000003"/>
<line x1="251.90" y1="264.6" x2="251.90" y2="262.15000000000003"/>
<line x1="263.90" y1="264.6" x2="263.90" y2="260.05"/>
<line x1="275.90" y1="264.6" x2="275.90" y2="262.15000000000003"/>
<line x1="287.90" y1="264.6" x2="287.90" y2="262.15000000000003"/>
<line x1="299.90" y1="264.6" x2="299.90" y2="262.15000000000003"/>
<line x1="311.90" y1="264.6" x2="311.90" y2="262.15000000000003"/>
<line x1="323.90" y1="264.6" x2="323.90" y2="260.05"/>
<line x1="335.90" y1="264.6" x2="335.90" y2="262.15000000000003"/>
<line x1="347.90" y1="264.6" x2="347.90" y2="262.15000000000003"/>
<line x1="359.90" y1="264.6" x2="359.90" y2="262.15000000000003"/>
<line x1="371.90" y1="264.6" x2="371.90" y2="262.15000000000003"/>
<line x1="383.90" y1="264.6" x2="383.90" y2="260.05"/>
<line x1="395.90" y1="264.6" x2="395.90" y2="262.15000000000003"/>
<line x1="407.90" y1="264.6" x2="407.90" y2="262.15000000000003"/>
<line x1="419.90" y1="264.6" x2="419.90" y2="262.15000000000003"/>
<line x1="55.5" y1="264.73" x2="60.050000000000004" y2="264.73"/>
<line x1="55.5" y1="258.15" x2="57.95" y2="258.15"/>
<line x1="55.5" y1="251.57" x2="57.95" y2="251.57"/>
<line x1="55.5" y1="245.00" x2="57.95" y2="245.00"/>
<line x1="55.5" y1="238.43" x2="57.95" y2="238.43"/>
<line x1="55.5" y1="231.85" x2="60.050000000000004" y2="231.85"/>
<line x1="55.5" y1="225.28" x2="57.95" y2="225.28"/>
<line x1="55.5" y1="218.70" x2="57.95" y2="218.70"/>
<line x1="55.5" y1="212.12" x2="57.95" y2="212.12"/>
<line x1="55.5" y1="205.55" x2="57.95" y2="205.55"/>
<line x1="55.5" y1="198.97" x2="60.050000000000004" y2="198.97"/>
<line x1="55.5" y1="192.40" x2="57.95" y2="192.40"/>
<line x1="55.5" y1="185.82" x2="57.95" y2="185.82"/>
<line x1="55.5" y1="179.25" x2="57.95" y2="179.25"/>
<line x1="55.5" y1="172.68" x2="57.95" y2="172.68"/>
<line x1="55.5" y1="166.10" x2="60.050000000000004" y2="166.10"/>
<line x1="55.5" y1="159.53" x2="57.95" y2="159.53"/>
<line x1="55.5" y1="152.95" x2="57.95" y2="152.95"/>
<line x1="55.5" y1="146.38" x2="57.95" y2="146.38"/>
<line x1="55.5" y1="139.80" x2="57.95" y2="139.80"/>
<line x1="55.5" y1="133.22" x2="60.050000000000004" y2="133.22"/>
<line x1="55.5" y1="126.65" x2="57.95" y2="126.65"/>
<line x1="55.5" y1="120.08" x2="57.95" y2="120.08"/>
<line x1="55.5" y1="113.50" x2="57.95" y2="113.50"/>
<line x1="55.5" y1="106.93" x2="57.95" y2="106.93"/>
<line x1="55.5" y1="100.35" x2="60.050000000000004" y2="100.35"/>
<line x1="55.5" y1="93.78" x2="57.95" y2="93.78"/>
<line x1="55.5" y1="87.20" x2="57.95" y2="87.20"/>
<line x1="55.5" y1="80.62" x2="57.95" y2="80.62"/>
<line x1="55.5" y1="74.05" x2="57.95" y2="74.05"/>
<line x1="55.5" y1="67.47" x2="60.050000000000004" y2="67.47"/>
<line x1="55.5" y1="60.90" x2="57.95" y2="60.90"/>
<line x1="55.5" y1="54.33" x2="57.95" y2="54.33"/>
<line x1="55.5" y1="47.75" x2="57.95" y2="47.75"/>
<line x1="55.5" y1="41.18" x2="57.95" y2="41.18"/>
<line x1="55.5" y1="34.60" x2="60.050000000000004" y2="34.60"/>
</g>
<g font-family="Liberation Sans, sans-serif" fill="#000" stroke="#000" stroke-linejoin="round">
<text xml:space="preserve" x="29.22 39.88" y="271.73" font-size="19" stroke-width="0.15"> 0</text><path d="M763 0H583V1147Q518 1085 412.5 1023T223 930V1104Q380 1178 497.5 1283T664 1487H763Z" transform="translate(29.22,271.73) scale(0.00928,-0.00879)" stroke-width="16.2"/>
<text xml:space="preserve" x="29.22 39.88" y="238.85" font-size="19" stroke-width="0.15">20</text>
<text xml:space="preserve" x="29.22 39.88" y="205.97" font-size="19" stroke-width="0.15">30</text>
<text xml:space="preserve" x="29.22 39.88" y="173.10" font-size="19" stroke-width="0.15">40</text>
<text xml:space="preserve" x="29.22 39.88" y="140.22" font-size="19" stroke-width="0.15">50</text>
<text xml:space="preserve" x="29.22 39.88" y="107.35" font-size="19" stroke-width="0.15">60</text>
<text xml:space="preserve" x="29.22 39.88" y="74.47" font-size="19" stroke-width="0.15">70</text>
<text xml:space="preserve" x="29.22 39.88" y="41.60" font-size="19" stroke-width="0.15">80</text>
<text xml:space="preserve" x="70.29 80.96 86.34" y="286.40" font-size="19" stroke-width="0.15">0.5</text>
<text xml:space="preserve" x="130.29 140.96 146.34" y="286.40" font-size="19" stroke-width="0.15">0.6</text>
<text xml:space="preserve" x="190.29 200.96 206.34" y="286.40" font-size="19" stroke-width="0.15">0.7</text>
<text xml:space="preserve" x="250.29 260.96 266.34" y="286.40" font-size="19" stroke-width="0.15">0.8</text>
<text xml:space="preserve" x="310.29 320.96 326.34" y="286.40" font-size="19" stroke-width="0.15">0.9</text>
<text xml:space="preserve" x="370.29 380.96 386.34" y="286.40" font-size="19" stroke-width="0.15"> .0</text><path d="M763 0H583V1147Q518 1085 412.5 1023T223 930V1104Q380 1178 497.5 1283T664 1487H763Z" transform="translate(370.29,286.40) scale(0.00928,-0.00879)" stroke-width="16.2"/>
<text xml:space="preserve" x="96.00 106.40 115.51 124.18 128.53 137.20 145.87 154.54" y="91.10" font-size="15.5" stroke-width="0.15">Λ=0. 4 8</text><path d="M763 0H583V1147Q518 1085 412.5 1023T223 930V1104Q380 1178 497.5 1283T664 1487H763Z" transform="translate(128.53,91.10) scale(0.00757,-0.00717)" stroke-width="19.8"/><path d="M763 0H583V1147Q518 1085 412.5 1023T223 930V1104Q380 1178 497.5 1283T664 1487H763Z" transform="translate(145.87,91.10) scale(0.00757,-0.00717)" stroke-width="19.8"/>
<text xml:space="preserve" x="96.00 106.40 115.51 124.18 128.53 137.20 145.87 154.54" y="120.60" font-size="15.5" stroke-width="0.15">Λ=0. 302</text><path d="M763 0H583V1147Q518 1085 412.5 1023T223 930V1104Q380 1178 497.5 1283T664 1487H763Z" transform="translate(128.53,120.60) scale(0.00757,-0.00717)" stroke-width="19.8"/>
<text xml:space="preserve" x="96.00 106.40 115.51 124.18 128.53 137.20 145.87 154.54" y="150.10" font-size="15.5" stroke-width="0.15">Λ=0. 200</text><path d="M763 0H583V1147Q518 1085 412.5 1023T223 930V1104Q380 1178 497.5 1283T664 1487H763Z" transform="translate(128.53,150.10) scale(0.00757,-0.00717)" stroke-width="19.8"/>
</g>
<line x1="96" y1="77.70" x2="107.6" y2="77.70" stroke="#000" stroke-width="1.1"/>
<line x1="96" y1="107.20" x2="107.6" y2="107.20" stroke="#000" stroke-width="1.1"/>
<line x1="96" y1="136.70" x2="107.6" y2="136.70" stroke="#000" stroke-width="1.1"/>
<text transform="translate(242.2,315.6) scale(1.18,1)" font-family="Liberation Sans, sans-serif" font-size="16.4" font-style="italic" text-anchor="middle" stroke="#000" stroke-width="0.3">Q</text>
<line x1="233.9" y1="301.4" x2="250.1" y2="301.4" stroke="#000" stroke-width="1.2"/>
<text transform="translate(18.1,152.4) rotate(-90)" font-family="Liberation Sans, sans-serif" font-size="18.5" font-style="italic" stroke="#000" stroke-width="0.3">τ</text>
</svg>
</body></html>
